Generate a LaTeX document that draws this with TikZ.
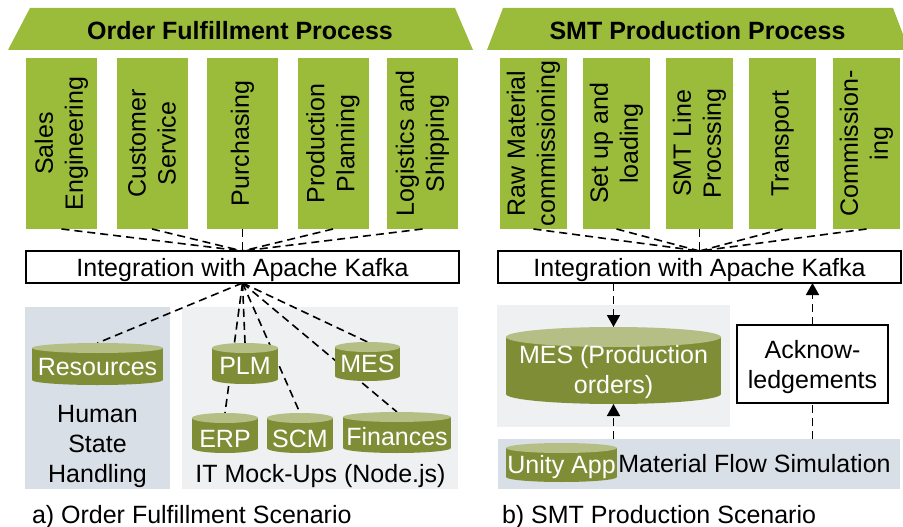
\documentclass[tikz,border=0pt]{standalone}
\usepackage{fontspec}
\setmainfont{Liberation Sans}
\usetikzlibrary{arrows.meta}
\definecolor{hdrgreen}{HTML}{9BBB3B}
\definecolor{cylbodyc}{HTML}{808D37}
\definecolor{cyltopc}{HTML}{B5BE85}
\definecolor{panelblue}{HTML}{D9DFE6}
\definecolor{panelgray}{HTML}{EEF0F2}
\newcommand\mycylcoords[7]{% name, x1, x2, ytop, ybot, ellipse height, text centre y
  \pgfmathsetmacro\cylcx{(#2+#3)/2}%
  \coordinate (#1-top) at (\cylcx,#4);
  \coordinate (#1-bot) at (\cylcx,#5);
  \coordinate (#1-txt) at (\cylcx,#7);
}
\newcommand\mycyl[7]{% name, x1, x2, ytop, ybot, ellipse height, text centre y
  \pgfmathsetmacro\cylcx{(#2+#3)/2}%
  \pgfmathsetmacro\cylrx{(#3-#2)/2}%
  \pgfmathsetmacro\cylry{#6/2}%
  \pgfmathsetmacro\cylyt{#4+#6/2}%
  \pgfmathsetmacro\cylyb{#5-#6/2}%
  \fill[cylbodyc] (#2,\cylyt) rectangle (#3,\cylyb);
  \fill[cylbodyc] (\cylcx,\cylyb) ellipse [x radius=\cylrx pt, y radius=\cylry pt];
  \fill[cyltopc] (\cylcx,\cylyt) ellipse [x radius=\cylrx pt, y radius=\cylry pt];
}
\begin{document}
\begin{tikzpicture}[x=1pt,y=-1pt,
  every node/.style={font=\fontsize{25}{30}\selectfont, inner sep=0pt, outer sep=0pt},
  title/.style={font=\fontsize{25}{30}\selectfont\bfseries, anchor=base},
  colbox/.style={fill=hdrgreen, rotate=90, minimum width=171pt, align=center},
  lcol/.style={colbox, minimum height=71pt},
  rcol/.style={colbox, minimum height=67pt},
  kafka/.style={draw, line width=1.8pt, minimum height=32pt, text height=18pt, text depth=0pt},
  dline/.style={draw, dash pattern=on 8pt off 5pt, line width=1.6pt},
  arr/.style={dline, -{Triangle[width=13pt,length=12pt]}},
  cyltext/.style={text=white},
  plain/.style={align=center}
]
\useasboundingbox (0,0) rectangle (903,527);
\fill[white] (0,0) rectangle (903,527);

% headers
\fill[hdrgreen] (30,8) -- (455,8) -- (473,50) -- (8,50) -- cycle;
\fill[hdrgreen] (503,8) -- (893,8) -- (909,50) -- (487,50) -- cycle;
\node[title] (tL) at (240,40) {Order Fulfillment Process};
\node[title] (tR) at (697.5,40) {SMT Production Process};

% columns left
\node[lcol] (c1) at (61.5,143.5) {Sales\\Engineering};
\node[lcol] (c2) at (152,143.5) {Customer\\Service};
\node[lcol] (c3) at (242.5,143.5) {Purchasing};
\node[lcol] (c4) at (333,143.5) {Production\\Planning};
\node[lcol] (c5) at (422.5,143.5) {Logistics and\\Shipping};
% columns right
\node[rcol] (d1) at (533.5,143.5) {Raw Material\\commissioning};
\node[rcol] (d2) at (616.5,143.5) {Set up and\\loading};
\node[rcol] (d3) at (699.5,143.5) {SMT Line\\Procssing};
\node[rcol] (d4) at (782.5,143.5) {Transport};
\node[rcol] (d5) at (866.5,143.5) {Commission-\\ing};

% kafka boxes
\node[kafka, minimum width=433pt] (kL) at (242.5,267) {Integration with Apache Kafka};
\node[kafka, minimum width=403pt] (kR) at (699.5,267) {Integration with Apache Kafka};

\foreach \c in {c1,c2,c3,c4,c5} {\draw[dline] (\c.west) -- (kL.north);}
\foreach \c in {d1,d2,d3,d4,d5} {\draw[dline] (\c.west) -- (kR.north);}

% panels
\fill[panelblue] (25,307) rectangle (170,489);
\fill[panelgray] (182,307) rectangle (458,489);
\fill[panelgray] (497,305) rectangle (730,427);
\node[fill=panelblue, minimum width=402pt, minimum height=50pt] (sim) at (699,464) {};

% cylinder anchor points
\mycylcoords{res}{32}{163}{343}{385}{10}{367}
\mycylcoords{plm}{212}{278}{343}{384}{10}{366}
\mycylcoords{mesL}{335}{400}{342}{381}{10}{364}
\mycylcoords{erp}{192}{258}{413}{453}{10}{438.5}
\mycylcoords{scm}{267}{333}{413}{453}{10}{438.5}
\mycylcoords{fin}{343}{451}{412}{453}{10}{436.5}
\mycylcoords{mesR}{506}{721}{327}{404}{20}{372.5}
\mycylcoords{unity}{506}{617}{443}{482}{10}{466.6}

% connectors from Kafka to the IT systems (behind the cylinders)
\foreach \t in {res,plm,mesL,erp,scm,fin} {\draw[dline] (kL.south) -- (\t-top);}

% cylinders
\mycyl{res}{32}{163}{343}{385}{10}{367}
\mycyl{plm}{212}{278}{343}{384}{10}{366}
\mycyl{mesL}{335}{400}{342}{381}{10}{364}
\mycyl{erp}{192}{258}{413}{453}{10}{438.5}
\mycyl{scm}{267}{333}{413}{453}{10}{438.5}
\mycyl{fin}{343}{451}{412}{453}{10}{436.5}
\mycyl{mesR}{506}{721}{327}{404}{20}{372.5}
\mycyl{unity}{506}{617}{443}{482}{10}{466.6}

\node[cyltext] (resT) at (res-txt) {Resources};
\node[cyltext] (plmT) at (plm-txt) {PLM};
\node[cyltext] (mesLT) at (mesL-txt) {MES};
\node[cyltext] (erpT) at (erp-txt) {ERP};
\node[cyltext] (scmT) at (scm-txt) {SCM};
\node[cyltext] (finT) at (fin-txt) {Finances};
\node[cyltext, align=center] (mesRT) at (mesR-txt) {MES (Production\\orders)};
\node[cyltext] (unityT) at (unity-txt) {Unity App};

\node[plain] (hsh) at (97.5,446.6) {Human\\State\\Handling};
\node[plain] (itm) at (320.5,476.5) {IT Mock-Ups (Node.js)};
\node[plain] (mfs) at (754.5,464) {Material Flow Simulation};

% acknowledgements
\node[draw, line width=1.8pt, minimum width=151pt, minimum height=78pt] (ack) at (812.5,364) {};
\node[plain] (ackT) at (812.5,367.5) {Acknow-\\ledgements};

% arrows right
\draw[arr] (kR.south -| mesR-top) -- (mesR-top);
\draw[arr] (sim.north -| mesR-bot) -- (mesR-bot);
\draw[dline] (sim.north -| ack.south) -- (ack.south);
\draw[arr] (ack.north) -- (ack.north |- kR.south);

% captions
\node[anchor=base west] (capA) at (32,523) {a) Order Fulfillment Scenario};
\node[anchor=base west] (capB) at (502,523) {b) SMT Production Scenario};
\end{tikzpicture}
\end{document}
